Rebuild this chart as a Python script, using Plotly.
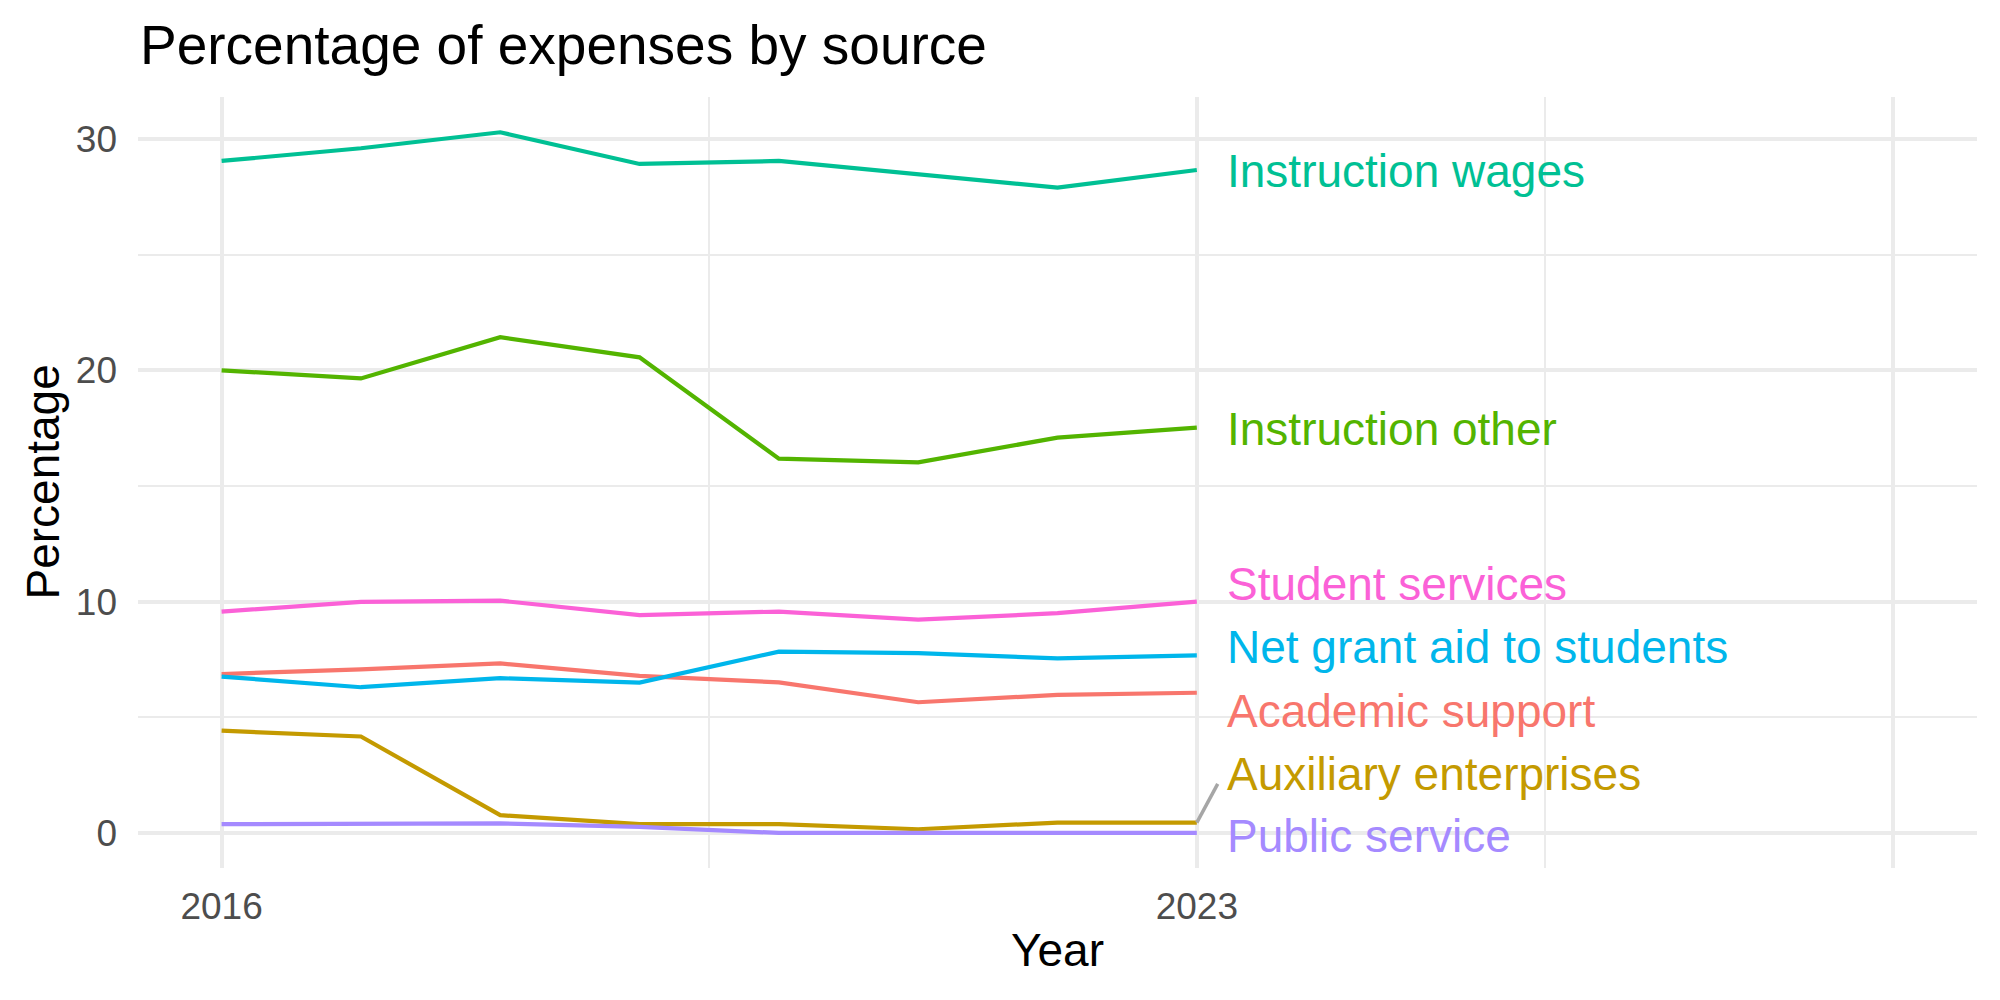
import plotly.graph_objects as go

years = [2016, 2017, 2018, 2019, 2020, 2021, 2022, 2023]

academic_support = [6.87, 7.07, 7.33, 6.79, 6.51, 5.65, 5.97, 6.06]
auxiliary_enterprises = [4.42, 4.17, 0.77, 0.38, 0.38, 0.16, 0.45, 0.45]
instruction_other = [20.0, 19.65, 21.43, 20.56, 16.18, 16.02, 17.09, 17.52]
instruction_wages = [29.05, 29.60, 30.29, 28.92, 29.05, 28.47, 27.90, 28.66]
net_grant_aid = [6.76, 6.30, 6.69, 6.50, 7.84, 7.77, 7.55, 7.68]
public_service = [0.38, 0.41, 0.41, 0.26, 0.0, 0.0, 0.0, 0.0]
student_services = [9.57, 9.99, 10.04, 9.42, 9.57, 9.22, 9.50, 10.0]

series_names = ["Academic support", "Auxiliary enterprises", "Instruction other",
                "Instruction wages", "Net grant aid to students", "Public service",
                "Student services"]
series_values = [academic_support, auxiliary_enterprises, instruction_other,
                 instruction_wages, net_grant_aid, public_service, student_services]
colors = ["#F8766D", "#C49A00", "#53B400", "#00C094", "#00B6EB", "#A58AFF", "#FB61D7"]

# repelled label positions (layout, not data)
label_y = [5.29, 2.56, 17.48, 28.63, 8.03, -0.12, 10.76]
label_x = 2023.2

x_ticks = [2016, 2023, 2028]
x_ticktext = ["2016", "2023", ""]
y_ticks = [0, 10, 20, 30]

FONT = "Liberation Sans, Arial, sans-serif"
GRID = "#EBEBEB"

W, H = 2000, 1000
ML, MR, MT, MB = 138, 23, 97, 132
PW, PH = W - ML - MR, H - MT - MB

fig = go.Figure()
for name, vals, col in zip(series_names, series_values, colors):
    fig.add_trace(go.Scatter(x=years, y=vals, mode="lines", name=name,
                             line=dict(color=col, width=4.2), showlegend=False))

for name, ly, col in zip(series_names, label_y, colors):
    fig.add_annotation(x=label_x, y=ly, text=name, showarrow=False,
                       xanchor="left", yanchor="middle", xref="x", yref="y",
                       font=dict(family=FONT, size=46, color=col))

# repel segment for Auxiliary enterprises
fig.add_shape(type="line", x0=years[-1], y0=auxiliary_enterprises[-1],
              x1=2023.15, y1=2.12, xref="x", yref="y",
              line=dict(color="#A6A6A6", width=3.5))

fig.add_annotation(text="Year", x=0.5, y=(H - MB - 950) / PH, xref="paper", yref="paper",
                   showarrow=False, xanchor="center", yanchor="middle",
                   font=dict(family=FONT, size=46, color="black"))
fig.add_annotation(text="Percentage", x=(42 - ML) / PW, y=0.5, xref="paper", yref="paper",
                   showarrow=False, xanchor="center", yanchor="middle", textangle=-90,
                   font=dict(family=FONT, size=46, color="black"))

fig.update_layout(
    width=W, height=H,
    margin=dict(l=ML, r=MR, t=MT, b=MB),
    paper_bgcolor="white", plot_bgcolor="white",
    title=dict(text="Percentage of expenses by source", x=140 / W, xref="container",
               xanchor="left", y=1 - 45 / H, yref="container", yanchor="middle",
               font=dict(family=FONT, size=55, color="black")),
    xaxis=dict(range=[2015.4, 2028.6], tickvals=x_ticks, ticktext=x_ticktext,
               showgrid=True, gridcolor=GRID, gridwidth=4.4, zeroline=False,
               showline=False, ticks="", ticklabelstandoff=13,
               tickfont=dict(family=FONT, size=37, color="#4D4D4D"),
               minor=dict(tickvals=[2019.5, 2025.5], showgrid=True, gridcolor=GRID,
                          gridwidth=2.2, ticks="")),
    yaxis=dict(range=[-1.515, 31.815], tickvals=y_ticks,
               showgrid=True, gridcolor=GRID, gridwidth=4.4, zeroline=False,
               showline=False, ticks="", ticklabelstandoff=20,
               tickfont=dict(family=FONT, size=37, color="#4D4D4D"),
               minor=dict(tickvals=[5, 15, 25], showgrid=True, gridcolor=GRID,
                          gridwidth=2.2, ticks="")),
)

fig.write_html("out.html")
